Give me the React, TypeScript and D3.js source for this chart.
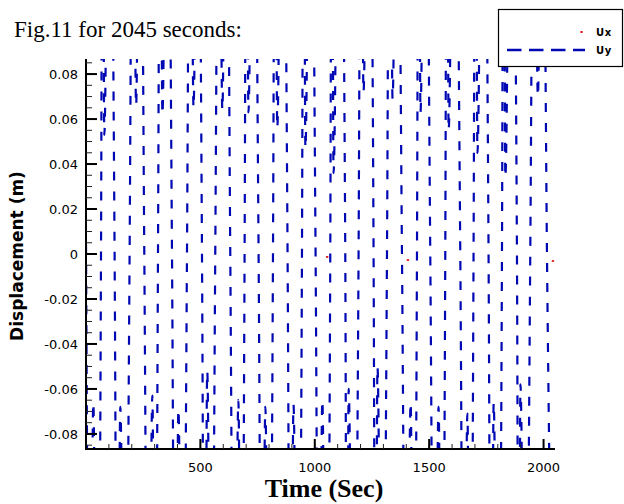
import { useEffect, useRef } from 'react';
import * as d3 from 'd3';

// Uy displacement (m) vs time (s). Per half cycle: zero crossing, off-frame extreme,
// the small inner dip that shows inside the frame, second extreme.
const uyTime = [
  0, 17, 32, 48, 65.6,
  72.8, 80, 102.5, 125,
  137.5, 150, 170.3, 190.6,
  204.8, 219, 236.9, 254.8,
  272.4, 290, 302.4, 314.7,
  324.4, 334, 355, 375.9,
  390, 404, 422.7, 441.4,
  455.7, 470, 488.5, 507,
  518.5, 530, 547.5, 565,
  580.5, 596, 613.3, 630.6,
  648.3, 666, 679.6, 693.2,
  701.6, 710, 732.2, 754.4,
  769.2, 784, 800.7, 817.3,
  826.7, 836, 858.6, 881.1,
  894, 907, 925.5, 944,
  951.5, 959, 981.3, 1003.5,
  1018.3, 1033, 1050.4, 1067.7,
  1074.9, 1082, 1107.7, 1133.3,
  1140.7, 1148, 1169.7, 1191.4,
  1202.2, 1213, 1235, 1257,
  1265.5, 1274, 1294.8, 1315.6,
  1327.8, 1340, 1360.6, 1381.1,
  1400, 1419, 1432.9, 1446.7,
  1454.4, 1462, 1483.4, 1504.8,
  1522.9, 1541, 1555.7, 1570.4,
  1577.7, 1585, 1610.5, 1636,
  1651.5, 1667, 1680.5, 1694,
  1702.5, 1711, 1735.3, 1759.6,
  1770.8, 1782, 1800.1, 1818.2,
  1825.6, 1833, 1858.4, 1883.7,
  1891.4, 1899, 1920.5, 1941.9,
  1958.5, 1975, 1995, 2014.9,
  2045
];
const uyValue = [
  0.004, -0.23, -0.066, -0.24, 0,
  0.23, 0.053, 0.24, 0,
  -0.23, -0.068, -0.24, 0,
  0.23, 0.066, 0.24, 0,
  -0.24, -0.063, -0.23, 0,
  0.23, 0.062, 0.24, 0,
  -0.23, -0.069, -0.24, 0,
  0.24, 0.065, 0.23, 0,
  -0.23, -0.052, -0.24, 0,
  0.23, 0.064, 0.24, 0,
  -0.24, -0.065, -0.23, 0,
  0.23, 0.063, 0.24, 0,
  -0.23, -0.068, -0.24, 0,
  0.23, 0.056, 0.24, 0,
  -0.24, -0.067, -0.23, 0,
  0.23, 0.047, 0.24, 0,
  -0.23, -0.065, -0.24, 0,
  0.23, 0.036, 0.24, 0,
  -0.24, -0.06, -0.23, 0,
  0.23, 0.072, 0.24, 0,
  -0.23, -0.05, -0.24, 0,
  0.24, 0.069, 0.23, 0,
  -0.23, -0.066, -0.24, 0,
  0.23, 0.063, 0.24, 0,
  -0.24, -0.068, -0.23, 0,
  0.23, 0.055, 0.24, 0,
  -0.23, -0.071, -0.24, 0,
  0.23, 0.045, 0.24, 0,
  -0.24, -0.066, -0.23, 0,
  0.23, 0.034, 0.24, 0,
  -0.23, -0.058, -0.24, 0,
  0.24, 0.07, 0.23, 0,
  -0.23
];

// Ux: the few red dots that show up near zero
const uxTime = [1054, 1407, 2041];
const uxValue = [-0.0013, -0.0027, -0.0031];

const xMajorTicks = [500, 1000, 1500, 2000];
const xMinorTicks = d3.range(100, 2050, 100);
const yMajorTicks = [-0.08, -0.06, -0.04, -0.02, 0, 0.02, 0.04, 0.06, 0.08];
const yTickLabels = ['-0.08', '-0.06', '-0.04', '-0.02', '0', '0.02', '0.04', '0.06', '0.08'];
const yMinorTicks = d3.range(-0.085, 0.0851, 0.005);

const legendLabels = ['Ux', 'Uy'];

export default function App() {
  const svgRef = useRef<SVGSVGElement>(null);

  useEffect(() => {
    const svg = d3.select(svgRef.current);
    svg.selectAll('*').remove();

    const width = 624;
    const height = 504;
    const plot = { left: 86, right: 555, top: 59, bottom: 449 };
    const sans = 'DejaVu Sans, Arial, sans-serif';
    const serif = 'Liberation Serif, Times New Roman, serif';
    const blue = '#0008b4';

    svg.attr('width', width).attr('height', height);

    const x = d3.scaleLinear().domain([0, 2050]).range([plot.left, plot.right]);
    const y = d3.scaleLinear().domain([-0.0867, 0.0867]).range([plot.bottom, plot.top]);

    svg.append('defs')
      .append('clipPath')
      .attr('id', 'plot-clip')
      .append('rect')
      .attr('x', plot.left)
      .attr('y', plot.top)
      .attr('width', plot.right - plot.left)
      .attr('height', plot.bottom - plot.top);

    const body = svg.append('g').attr('clip-path', 'url(#plot-clip)');

    const line = d3.line<number>()
      .x(i => x(uyTime[i]))
      .y(i => y(uyValue[i]))
      .curve(d3.curveMonotoneX);

    body.append('path')
      .attr('d', line(d3.range(uyTime.length)))
      .attr('fill', 'none')
      .attr('stroke', blue)
      .attr('stroke-width', 2.2)
      .attr('stroke-dasharray', '9,11');

    body.selectAll('.ux')
      .data(uxTime)
      .join('rect')
      .attr('class', 'ux')
      .attr('x', (d) => x(d) - 1.2)
      .attr('y', (d, i) => y(uxValue[i]) - 0.8)
      .attr('width', 2.4)
      .attr('height', 1.6)
      .attr('fill', '#e00000');

    // axis lines
    svg.append('line')
      .attr('x1', plot.left).attr('x2', plot.left)
      .attr('y1', plot.top).attr('y2', plot.bottom + 1)
      .attr('stroke', '#000').attr('stroke-width', 2);
    svg.append('line')
      .attr('x1', plot.left - 1).attr('x2', plot.right)
      .attr('y1', plot.bottom).attr('y2', plot.bottom)
      .attr('stroke', '#000').attr('stroke-width', 2);

    // y ticks
    svg.selectAll('.yminor')
      .data(yMinorTicks)
      .join('line')
      .attr('x1', plot.left).attr('x2', plot.left + 6)
      .attr('y1', d => y(d)).attr('y2', d => y(d))
      .attr('stroke', '#222').attr('stroke-width', 1);
    svg.selectAll('.ymajor')
      .data(yMajorTicks)
      .join('line')
      .attr('x1', plot.left).attr('x2', plot.left + 11)
      .attr('y1', d => y(d)).attr('y2', d => y(d))
      .attr('stroke', '#000').attr('stroke-width', 2);
    svg.selectAll('.ylabel')
      .data(yMajorTicks)
      .join('text')
      .attr('x', 78)
      .attr('y', d => y(d))
      .attr('dy', '0.36em')
      .attr('text-anchor', 'end')
      .style('font-family', sans)
      .style('font-size', '13px')
      .text((d, i) => yTickLabels[i]);

    // x ticks
    svg.selectAll('.xminor')
      .data(xMinorTicks)
      .join('line')
      .attr('x1', d => x(d)).attr('x2', d => x(d))
      .attr('y1', plot.bottom).attr('y2', plot.bottom - 5)
      .attr('stroke', '#222').attr('stroke-width', 1);
    svg.selectAll('.xmajor')
      .data(xMajorTicks)
      .join('line')
      .attr('x1', d => x(d)).attr('x2', d => x(d))
      .attr('y1', plot.bottom).attr('y2', plot.bottom - 10)
      .attr('stroke', '#000').attr('stroke-width', 2);
    svg.selectAll('.xlabel')
      .data(xMajorTicks)
      .join('text')
      .attr('x', d => x(d))
      .attr('y', 472)
      .attr('text-anchor', 'middle')
      .style('font-family', sans)
      .style('font-size', '13px')
      .text(d => String(d));

    // titles
    svg.append('text')
      .attr('x', 14)
      .attr('y', 37)
      .style('font-family', serif)
      .style('font-size', '23px')
      .text('Fig.11 for 2045 seconds:');

    svg.append('text')
      .attr('x', 324)
      .attr('y', 497)
      .attr('text-anchor', 'middle')
      .style('font-family', serif)
      .style('font-size', '26px')
      .style('font-weight', 'bold')
      .text('Time (Sec)');

    svg.append('text')
      .attr('transform', 'translate(23,256) rotate(-90)')
      .attr('text-anchor', 'middle')
      .style('font-family', sans)
      .style('font-size', '17px')
      .style('font-weight', 'bold')
      .text('Displacement (m)');

    // legend
    svg.append('rect')
      .attr('x', 498.5).attr('y', 9.5)
      .attr('width', 124).attr('height', 57)
      .attr('fill', '#fff')
      .attr('stroke', '#000').attr('stroke-width', 1.2);

    svg.append('rect')
      .attr('x', 580.5).attr('y', 31)
      .attr('width', 2).attr('height', 2)
      .attr('fill', '#e00000');

    svg.append('line')
      .attr('x1', 507).attr('x2', 585)
      .attr('y1', 50).attr('y2', 50)
      .attr('stroke', blue)
      .attr('stroke-width', 2.5)
      .attr('stroke-dasharray', '14.5,7.5');

    svg.selectAll('.legtext')
      .data(legendLabels)
      .join('text')
      .attr('x', 596)
      .attr('y', (d, i) => 36 + i * 17.5)
      .style('font-family', sans)
      .style('font-size', '10px')
      .style('font-weight', 'bold')
      .style('letter-spacing', '0.6px')
      .text(d => d);
  }, []);

  return <svg ref={svgRef} style={{ position: 'absolute', left: 0, top: 0 }}></svg>;
}
